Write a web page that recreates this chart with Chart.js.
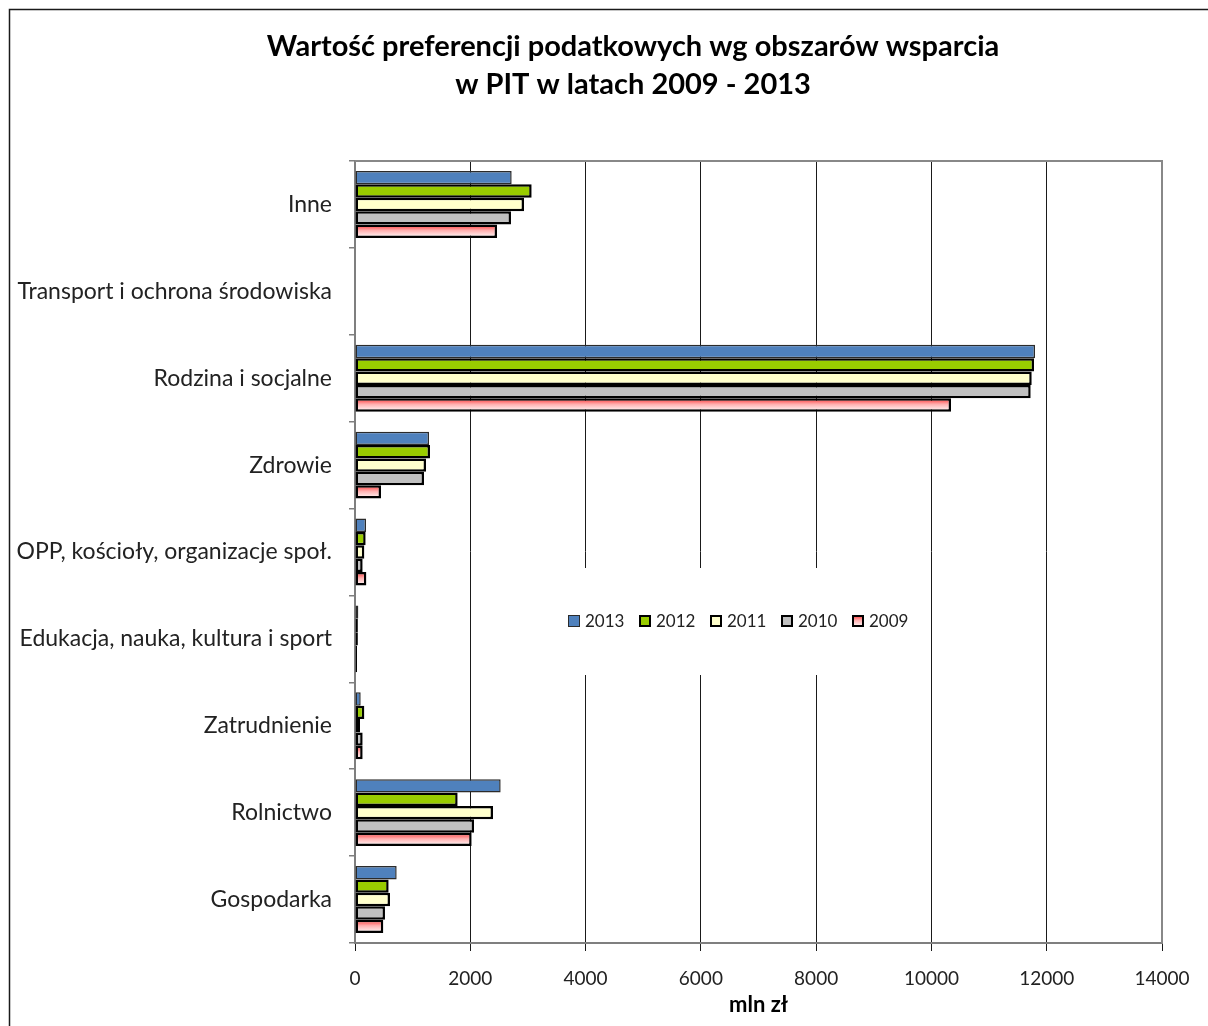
<!DOCTYPE html>
<html lang="pl">
<head>
<meta charset="utf-8">
<title>Preferencje podatkowe PIT 2009-2013</title>
<script src="https://cdn.jsdelivr.net/npm/chart.js@4.4.1/dist/chart.umd.min.js"></script>
<style>
    html, body { margin: 0; padding: 0; background: #fff; overflow: hidden; }
    #wrap { width: 1208px; height: 1026px; }
</style>
</head>
<body>
<div id="wrap"><canvas id="pit-chart" width="1208" height="1026"></canvas></div>
<script>
// obszary wsparcia, od góry wykresu
var categories = [
    'Inne',
    'Transport i ochrona środowiska',
    'Rodzina i socjalne',
    'Zdrowie',
    'OPP, kościoły, organizacje społ.',
    'Edukacja, nauka, kultura i sport',
    'Zatrudnienie',
    'Rolnictwo',
    'Gospodarka'
];

// mln zł
var values2013 = [2718, 0, 11797, 1284, 191, 58, 99, 2527, 723];
var values2012 = [3065, 0, 11780, 1301, 185, 50, 162, 1781, 584];
var values2011 = [2932, 0, 11740, 1232, 162, 50, 87, 2394, 607];
var values2010 = [2706, 0, 11722, 1197, 133, 35, 133, 2065, 520];
var values2009 = [2464, 0, 10340, 451, 197, 35, 133, 2024, 491];

var xTicks = [0, 2000, 4000, 6000, 8000, 10000, 12000, 14000];

var titleLines = ['Wartość preferencji podatkowych wg obszarów wsparcia', 'w PIT w latach 2009 - 2013'];

(function () {
    'use strict';

    var canvas = document.getElementById('pit-chart');
    if (!canvas) return;

    var CAT_PCT = 0.77;
    var FONT = 'Lato';

    // czerwony u góry słupka, blednie do białego
    function fadeStops(g) {
        g.addColorStop(0, '#ff3030');
        g.addColorStop(0.45, '#ffb0b0');
        g.addColorStop(1, '#ffffff');
        return g;
    }

    function redFade(ctx) {
        var chart = ctx.chart;
        var y = chart.scales && chart.scales.y;
        if (ctx.type !== 'data' || !y || !chart.chartArea) return '#ff6060';
        var nSets = chart.data.datasets.length;
        var group = (y.height / categories.length) * CAT_PCT;
        var size = group / nSets;
        var center = y.getPixelForValue(ctx.dataIndex) - group / 2 + size * (ctx.datasetIndex + 0.5);
        return fadeStops(chart.ctx.createLinearGradient(0, center - size / 2, 0, center + size / 2));
    }

    var series = [
        { label: '2013', data: values2013, fill: '#4f81bd', border: '#2b2b2b', width: 1.5 },
        { label: '2012', data: values2012, fill: '#99cc00', border: '#000000', width: 2.5 },
        { label: '2011', data: values2011, fill: '#ffffcc', border: '#000000', width: 2.5 },
        { label: '2010', data: values2010, fill: '#c0c0c0', border: '#000000', width: 2.5 },
        { label: '2009', data: values2009, fill: redFade, border: '#000000', width: 2.5 }
    ];

    var datasets = series.map(function (s) {
        return {
            label: s.label,
            data: s.data,
            backgroundColor: s.fill,
            borderColor: s.border,
            borderWidth: s.width,
            borderSkipped: false,
            categoryPercentage: CAT_PCT,
            barPercentage: 1.0
        };
    });

    // legenda na białym polu w środku obszaru wykresu, tytuł i ramka
    var decorations = {
        id: 'decorations',
        afterDatasetsDraw: function (chart) {
            var c = chart.ctx;
            var area = chart.chartArea;
            var boxX = area.left + 195, boxY = area.top + 407;
            c.save();
            c.fillStyle = '#ffffff';
            c.fillRect(boxX, boxY, 375, 107);

            var x0 = area.left + 213, yMid = area.top + 460;
            c.font = '17px ' + FONT;
            c.textBaseline = 'middle';
            c.textAlign = 'left';
            chart.data.datasets.forEach(function (ds, i) {
                var mx = x0 + i * 71;
                var my = yMid - 6;
                if (typeof ds.backgroundColor === 'function') {
                    c.fillStyle = fadeStops(c.createLinearGradient(0, my, 0, my + 12));
                } else {
                    c.fillStyle = ds.backgroundColor;
                }
                c.fillRect(mx, my, 12, 12);
                c.lineWidth = i === 0 ? 1 : 2;
                c.strokeStyle = ds.borderColor;
                c.strokeRect(mx + c.lineWidth / 2, my + c.lineWidth / 2, 12 - c.lineWidth, 12 - c.lineWidth);
                c.fillStyle = '#222';
                c.fillText(ds.label, mx + 17, yMid + 1);
            });
            c.restore();
        },
        afterDraw: function (chart) {
            var c = chart.ctx;
            var area = chart.chartArea;
            c.save();
            // górna i prawa krawędź obszaru wykresu
            c.strokeStyle = '#888888';
            c.lineWidth = 2;
            c.beginPath();
            c.moveTo(area.left, area.top);
            c.lineTo(area.right, area.top);
            c.lineTo(area.right, area.bottom);
            c.stroke();
            // ramka całego wykresu
            c.strokeStyle = '#1a1a1a';
            c.lineWidth = 1.5;
            c.beginPath();
            c.moveTo(9.5, chart.height);
            c.lineTo(9.5, 9.5);
            c.lineTo(chart.width, 9.5);
            c.stroke();
            // tytuł w dwóch wierszach
            c.fillStyle = '#000';
            c.font = 'bold 29px ' + FONT;
            c.textAlign = 'center';
            c.textBaseline = 'middle';
            titleLines.forEach(function (line, i) {
                c.fillText(line, 633, 47 + i * 38);
            });
            c.restore();
        }
    };

    new Chart(canvas, {
        type: 'bar',
        data: {
            labels: categories,
            datasets: datasets
        },
        plugins: [decorations],
        options: {
            indexAxis: 'y',
            responsive: false,
            animation: false,
            events: [],
            layout: {
                padding: { left: 0, right: 46, top: 161, bottom: 0 }
            },
            plugins: {
                legend: { display: false },
                tooltip: { enabled: false },
                title: { display: false }
            },
            scales: {
                x: {
                    min: xTicks[0],
                    max: xTicks[xTicks.length - 1],
                    afterBuildTicks: function (scale) {
                        scale.ticks = xTicks.map(function (v) { return { value: v }; });
                    },
                    afterFit: function (scale) {
                        scale.height = 83;
                    },
                    ticks: {
                        color: '#222',
                        font: { family: FONT, size: 19 },
                        padding: 16,
                        callback: function (value) {
                            return String(value);
                        }
                    },
                    grid: {
                        color: '#1a1a1a',
                        lineWidth: 1,
                        tickLength: 8
                    },
                    border: { color: '#7f7f7f', width: 2 },
                    title: {
                        display: true,
                        text: 'mln zł',
                        color: '#000',
                        font: { family: FONT, size: 22, weight: 'bold' },
                        padding: { top: 0, bottom: 8 }
                    }
                },
                y: {
                    afterFit: function (scale) {
                        scale.width = 355;
                    },
                    ticks: {
                        color: '#222',
                        font: { family: FONT, size: 23 },
                        padding: 17,
                        autoSkip: false
                    },
                    grid: {
                        offset: true,
                        drawOnChartArea: false,
                        color: '#7f7f7f',
                        lineWidth: 1.5,
                        tickLength: 6
                    },
                    border: { color: '#7f7f7f', width: 2 }
                }
            }
        }
    });
})();
</script>
</body>
</html>
